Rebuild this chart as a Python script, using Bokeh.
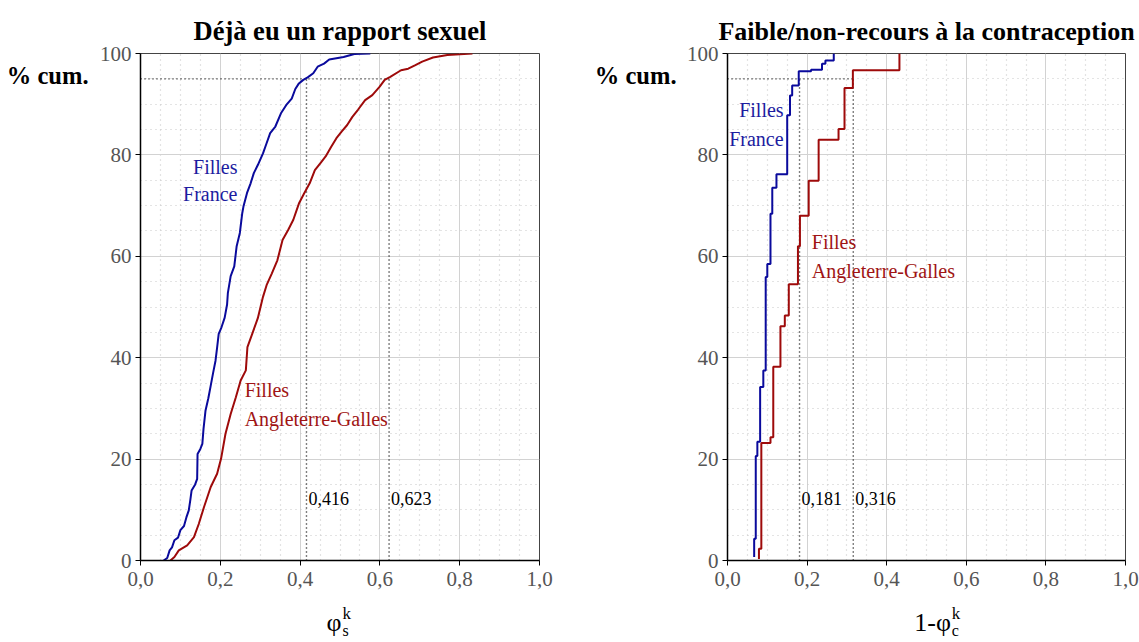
from bokeh.plotting import figure
from bokeh.layouts import row, column
from bokeh.models import Label, FixedTicker, CustomJSTickFormatter
from bokeh.core.properties import value
from bokeh.embed import file_html
from bokeh.resources import INLINE

# ---------------- data ----------------
panel_titles = ["Déjà eu un rapport sexuel", "Faible/non-recours à la contraception"]
y_label = "% cum."
series_names = [["Filles", "France"], ["Filles", "Angleterre-Galles"]]
x_labels = [["φ", "s", "k"], ["1-φ", "c", "k"]]   # main symbol, subscript, superscript

x_ticks = [0.0, 0.2, 0.4, 0.6, 0.8, 1.0]
x_tick_labels = ["0,0", "0,2", "0,4", "0,6", "0,8", "1,0"]
x_minor = [0.05, 0.1, 0.15, 0.25, 0.3, 0.35, 0.45, 0.5, 0.55, 0.65, 0.7, 0.75, 0.85, 0.9, 0.95]
y_ticks = [0, 20, 40, 60, 80, 100]
y_minor = [5, 10, 15, 25, 30, 35, 45, 50, 55, 65, 70, 75, 85, 90, 95]

ref_level = 95

# Panel 1: phi_s^k cumulative distributions
s_fr_x = [0.058, 0.067, 0.073, 0.079, 0.085, 0.094, 0.100, 0.109, 0.115, 0.121, 0.125, 0.128,
          0.137, 0.142, 0.143, 0.150, 0.155, 0.158, 0.163, 0.170, 0.176, 0.182, 0.188, 0.192,
          0.196, 0.203, 0.211, 0.217, 0.219, 0.226, 0.235, 0.241, 0.249, 0.255, 0.258, 0.267,
          0.276, 0.284, 0.294, 0.307, 0.316, 0.325, 0.338, 0.352, 0.365, 0.379, 0.388, 0.397,
          0.408, 0.419, 0.433, 0.444, 0.460, 0.473, 0.509, 0.536, 0.576]
s_fr_y = [0.0, 0.5, 2.0, 2.6, 4.0, 4.5, 6.0, 6.8, 8.5, 9.9, 12.0, 13.8,
          15.0, 16.1, 21.0, 22.0, 23.0, 26.0, 29.6, 32.0, 34.5, 37.0, 39.4, 42.0,
          44.7, 46.0, 47.9, 50.5, 52.8, 56.1, 58.0, 62.0, 64.6, 68.5, 69.8, 72.5,
          74.4, 76.4, 78.0, 80.3, 82.3, 84.3, 85.6, 88.2, 89.8, 91.1, 93.0, 94.1,
          94.8, 95.3, 96.1, 97.4, 98.0, 98.8, 99.3, 99.9, 100.0]
s_en_x = [0.075, 0.085, 0.096, 0.117, 0.134, 0.146, 0.159, 0.176, 0.192, 0.202, 0.213, 0.226,
          0.239, 0.251, 0.264, 0.268, 0.280, 0.294, 0.307, 0.316, 0.329, 0.343, 0.356, 0.370,
          0.383, 0.397, 0.410, 0.424, 0.437, 0.451, 0.464, 0.478, 0.491, 0.504, 0.518, 0.531,
          0.545, 0.563, 0.581, 0.599, 0.612, 0.626, 0.653, 0.671, 0.689, 0.706, 0.733, 0.769,
          0.832]
s_en_y = [0.0, 0.7, 2.0, 3.0, 4.6, 7.2, 10.5, 14.5, 17.1, 20.1, 25.0, 28.9,
          32.2, 35.5, 37.5, 42.1, 44.7, 47.8, 52.0, 54.3, 56.6, 59.2, 63.2, 65.2,
          67.2, 70.4, 72.4, 74.4, 77.0, 78.4, 79.7, 81.6, 83.3, 84.6, 85.9, 87.5,
          88.9, 90.8, 91.8, 93.4, 94.8, 95.4, 96.7, 97.0, 97.7, 98.4, 99.2, 99.7,
          100.0]
s_quantiles = [0.416, 0.623]

# Panel 2: 1 - phi_c^k cumulative distributions (step functions)
c_fr_x = [0.067, 0.067, 0.071, 0.075, 0.082, 0.090, 0.096, 0.100, 0.108, 0.1125, 0.123,
          0.150, 0.157, 0.1625, 0.179, 0.210, 0.2375, 0.246, 0.267]
c_fr_y = [0.7, 4.3, 20.6, 23.4, 34.2, 37.5, 55.9, 58.5, 68.4, 73.5, 76.2,
          87.8, 91.7, 93.7, 96.5, 96.8, 98.0, 98.6, 100.0]
c_en_x = [0.079, 0.079, 0.085, 0.108, 0.115, 0.133, 0.144, 0.154, 0.177, 0.182, 0.204,
          0.229, 0.279, 0.294, 0.315, 0.432]
c_en_y = [0.3, 2.3, 23.2, 24.3, 38.2, 46.2, 48.3, 54.5, 62.0, 68.0, 74.9,
          83.0, 85.1, 93.2, 96.7, 100.0]
c_quantiles = [0.181, 0.316]

# ---------------- style ----------------
FONT = "Liberation Serif"
BLUE = "#0a0a9c"
RED = "#9e0a0a"
BLUE_T = "#1c1ca0"
RED_T = "#a01414"
GRID = "#d2d2d2"

SIDE_W = 95      # strip holding "% cum."
TOTAL_H = 642
MAIN_H = 600     # main chart height; x-label strip below
XL_H = TOTAL_H - MAIN_H

x_fmt = CustomJSTickFormatter(args=dict(xt=x_ticks, xl=x_tick_labels), code="""
    let best = 0;
    for (let i = 0; i < xt.length; i++) {
        if (Math.abs(xt[i] - tick) < Math.abs(xt[best] - tick)) best = i;
    }
    return xl[best];
""")


def blank(width, height):
    f = figure(width=width, height=height, x_range=(0, width), y_range=(0, height),
               output_backend="svg", toolbar_location=None,
               x_axis_type=None, y_axis_type=None,
               min_border=0, min_border_left=0, min_border_right=0,
               min_border_top=0, min_border_bottom=0)
    f.grid.visible = False
    f.outline_line_color = None
    f.background_fill_color = "white"
    f.border_fill_color = "white"
    return f


def side_strip():
    f = blank(SIDE_W, TOTAL_H)
    f.text(x=[88], y=[TOTAL_H - 75], text=[y_label], text_font=value(FONT),
           text_font_size="24.5px", text_font_style="bold", text_color="black",
           text_align="right", text_baseline="middle")
    return f


def xlabel_strip(width, frame_left, frame_w, labels, off_main, off_script):
    f = blank(width, XL_H)
    cx = frame_left + frame_w / 2
    main, sub, sup = labels
    f.text(x=[cx + off_main], y=[20], text=[main], text_font=value(FONT),
           text_font_size="26px", text_color="black",
           text_align="right", text_baseline="middle")
    f.text(x=[cx + off_script], y=[29], text=[sup], text_font=value(FONT),
           text_font_size="17px", text_color="black",
           text_align="left", text_baseline="middle")
    f.text(x=[cx + off_script], y=[12], text=[sub], text_font=value(FONT),
           text_font_size="16px", text_color="black",
           text_align="left", text_baseline="middle")
    return f


def make_panel(title, width, border_left, border_right, title_size):
    p = figure(width=width, height=MAIN_H, x_range=(0, 1), y_range=(0, 100),
               output_backend="svg", toolbar_location=None,
               min_border_left=border_left, min_border_right=border_right,
               min_border_top=53, min_border_bottom=MAIN_H - 560)
    p.title.text = title
    p.title.text_font = FONT
    p.title.text_font_size = title_size
    p.title.text_font_style = "bold"
    p.title.align = "center"
    p.title.text_color = "black"
    p.title.standoff = 15

    p.xaxis.ticker = FixedTicker(ticks=x_ticks, minor_ticks=x_minor)
    p.yaxis.ticker = FixedTicker(ticks=y_ticks, minor_ticks=y_minor)
    p.xaxis.formatter = x_fmt
    for ax in (p.xaxis, p.yaxis):
        ax.axis_line_color = "black"
        ax.axis_line_width = 1.5
        ax.major_tick_line_color = "black"
        ax.major_tick_out = 5
        ax.major_tick_in = 0
        ax.minor_tick_line_color = None
        ax.major_label_text_font = FONT
        ax.major_label_text_font_size = "21px"
        ax.major_label_text_color = "#555555"
    p.xaxis.major_label_standoff = 6
    p.yaxis.major_label_standoff = 4

    for g in (p.xgrid, p.ygrid):
        g.grid_line_color = GRID
        g.grid_line_width = 1
        g.minor_grid_line_color = "#c8c8c8"
        g.minor_grid_line_dash = "1 4"
        g.minor_grid_line_width = 1.2

    p.outline_line_color = "#444444"
    p.outline_line_width = 1
    p.background_fill_color = "white"
    p.border_fill_color = "white"
    return p


def fmt(v):
    return ("%.3f" % v).replace(".", ",")


def add_refs(p, quantiles):
    qmax = max(quantiles)
    p.segment(x0=[0], y0=[ref_level], x1=[qmax], y1=[ref_level], line_color="black",
              line_dash="1 3", line_width=1.4)
    p.segment(x0=quantiles, y0=[0] * len(quantiles), x1=quantiles, y1=[ref_level] * len(quantiles),
              line_color="black", line_dash="1 3", line_width=1.4)
    for q in quantiles:
        p.add_layout(Label(x=q, y=12.3, x_offset=2, text=fmt(q), text_font=FONT,
                           text_font_size="18px", text_color="black",
                           text_align="left", text_baseline="middle"))


def add_text(p, x, y, txt, color, align, size="20px"):
    p.add_layout(Label(x=x, y=y, text=txt, text_font=FONT, text_font_size=size,
                       text_color=color, text_align=align, text_baseline="middle"))


# ---------------- panel 1 ----------------
P1_W, P1_BL, P1_BR = 493, 45, 49
p1 = make_panel(panel_titles[0], P1_W, P1_BL, P1_BR, "26.5px")
add_refs(p1, s_quantiles)
p1.line(s_fr_x, s_fr_y, line_color=BLUE, line_width=2)
p1.line(s_en_x, s_en_y, line_color=RED, line_width=2)
add_text(p1, 0.243, 77.7, series_names[0][0], BLUE_T, "right")
add_text(p1, 0.243, 72.2, series_names[0][1], BLUE_T, "right")
add_text(p1, 0.261, 33.7, series_names[1][0], RED_T, "left")
add_text(p1, 0.261, 27.9, series_names[1][1], RED_T, "left")
xl1 = xlabel_strip(P1_W, P1_BL, P1_W - P1_BL - P1_BR, x_labels[0], 4, 5)

# ---------------- panel 2 ----------------
P2_W, P2_BL, P2_BR = 456, 44, 14
p2 = make_panel(panel_titles[1], P2_W, P2_BL, P2_BR, "26px")
add_refs(p2, c_quantiles)
p2.step(c_fr_x, c_fr_y, mode="after", line_color=BLUE, line_width=2)
p2.step(c_en_x, c_en_y, mode="after", line_color=RED, line_width=2)
add_text(p2, 0.141, 88.8, series_names[0][0], BLUE_T, "right")
add_text(p2, 0.141, 83.2, series_names[0][1], BLUE_T, "right")
add_text(p2, 0.2117, 62.8, series_names[1][0], RED_T, "left")
add_text(p2, 0.2117, 57.1, series_names[1][1], RED_T, "left")
xl2 = xlabel_strip(P2_W, P2_BL, P2_W - P2_BL - P2_BR, x_labels[1], 13, 14)

layout = row(side_strip(), column(p1, xl1), side_strip(), column(p2, xl2))
open("out.html", "w").write(file_html(layout, INLINE))
